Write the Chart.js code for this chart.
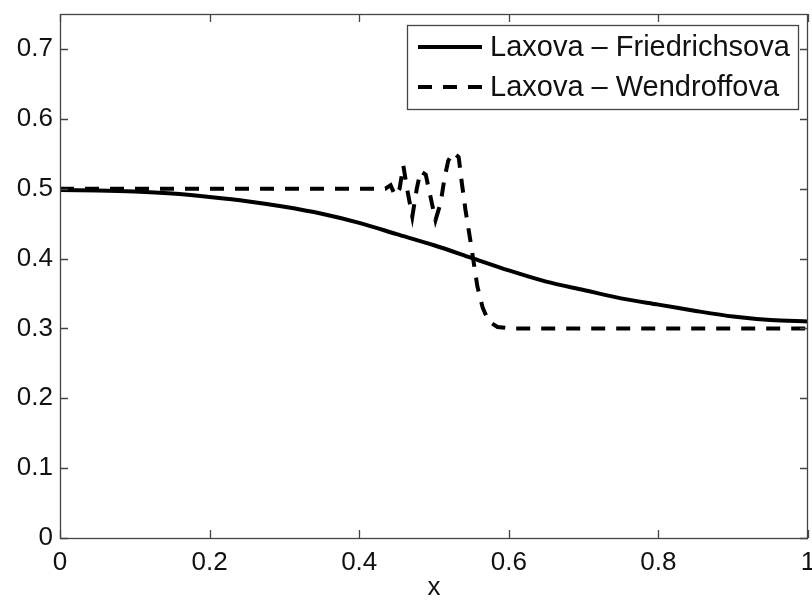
<!DOCTYPE html>
<html>
<head>
<meta charset="utf-8">
<script src="https://cdn.jsdelivr.net/npm/chart.js@4/dist/chart.umd.min.js"></script>
<style>
  html, body { margin: 0; padding: 0; background: #fff; }
  #wrap { width: 812px; height: 603px; position: relative; }
</style>
</head>
<body>
<div id="wrap"><canvas id="c" width="812" height="603"></canvas></div>
<script>
// ---- data ----
const lfX = [0, 0.05, 0.1, 0.15, 0.2, 0.25, 0.3, 0.35, 0.4, 0.45, 0.5, 0.55, 0.6, 0.65, 0.7, 0.75, 0.8, 0.85, 0.9, 0.95, 1.0];
const lfY = [0.498, 0.4975, 0.496, 0.493, 0.488, 0.482, 0.474, 0.464, 0.451, 0.435, 0.419, 0.401, 0.383, 0.367, 0.355, 0.343, 0.334, 0.325, 0.317, 0.312, 0.310];

const lwX = [0, 0.2, 0.42, 0.435, 0.442, 0.448, 0.454, 0.459, 0.464, 0.471, 0.477, 0.482, 0.489, 0.495, 0.502, 0.509, 0.514, 0.519, 0.526, 0.533, 0.537, 0.542, 0.548, 0.553, 0.558, 0.565, 0.573, 0.585, 0.603, 0.8, 1.0];
const lwY = [0.5, 0.5, 0.5, 0.5, 0.505, 0.49, 0.5, 0.533, 0.5, 0.46, 0.5, 0.525, 0.52, 0.49, 0.455, 0.48, 0.515, 0.54, 0.552, 0.545, 0.51, 0.47, 0.43, 0.395, 0.36, 0.33, 0.31, 0.302, 0.3, 0.3, 0.3];

const seriesNames = ['Laxova \u2013 Friedrichsova', 'Laxova \u2013 Wendroffova'];
const xTicks = [0, 0.2, 0.4, 0.6, 0.8, 1];
const xTickLabels = ['0', '0.2', '0.4', '0.6', '0.8', '1'];
const yTicks = [0, 0.1, 0.2, 0.3, 0.4, 0.5, 0.6, 0.7];
const yTickLabels = ['0', '0.1', '0.2', '0.3', '0.4', '0.5', '0.6', '0.7'];
const xTitle = 'x';

const FONT = '"Liberation Sans", Arial, Helvetica, sans-serif';
const AXIS_COLOR = '#444';

function zeroPad(s) { s.paddingTop = 0; s.paddingBottom = 0; s.paddingLeft = 0; s.paddingRight = 0; }

const framePlugin = {
  id: 'frame',
  afterDraw(chart) {
    const ctx = chart.ctx;
    const a = chart.chartArea;
    const xs = chart.scales.x, ys = chart.scales.y;
    ctx.save();
    ctx.strokeStyle = AXIS_COLOR;
    ctx.lineWidth = 1.3;
    ctx.strokeRect(a.left + 0.5, a.top + 0.5, a.right - a.left - 1, a.bottom - a.top);
    const L = 8;
    ctx.beginPath();
    xs.ticks.forEach(t => {
      const px = Math.round(xs.getPixelForValue(t.value)) + 0.5;
      ctx.moveTo(px, a.bottom); ctx.lineTo(px, a.bottom - L);
      ctx.moveTo(px, a.top); ctx.lineTo(px, a.top + L);
    });
    ys.ticks.forEach(t => {
      const py = Math.round(ys.getPixelForValue(t.value)) + 0.5;
      ctx.moveTo(a.left, py); ctx.lineTo(a.left + L, py);
      ctx.moveTo(a.right, py); ctx.lineTo(a.right - L, py);
    });
    ctx.stroke();

    // legend box
    const bx = 407, by = 25, bw = 391, bh = 84;
    ctx.fillStyle = '#fff';
    ctx.fillRect(bx, by, bw, bh);
    ctx.strokeStyle = AXIS_COLOR;
    ctx.lineWidth = 1.3;
    ctx.strokeRect(bx + 0.5, by + 0.5, bw, bh);
    ctx.font = '29px ' + FONT;
    ctx.textBaseline = 'middle';
    ctx.fillStyle = '#111';
    chart.data.datasets.forEach((ds, i) => {
      const cy = by + 22 + i * 40;
      ctx.save();
      ctx.strokeStyle = '#000';
      ctx.lineWidth = ds.borderWidth;
      ctx.setLineDash(ds.borderDash || []);
      ctx.beginPath();
      ctx.moveTo(bx + 11, cy); ctx.lineTo(bx + 75, cy);
      ctx.stroke();
      ctx.restore();
      ctx.fillText(ds.label, bx + 83, cy + 1);
    });
    ctx.restore();
  }
};

new Chart(document.getElementById('c'), {
  type: 'line',
  data: {
    datasets: [
      {
        label: seriesNames[0],
        data: lfX.map((x, i) => ({ x: x, y: lfY[i] })),
        borderColor: '#000', borderWidth: 4, pointRadius: 0, tension: 0.3, fill: false
      },
      {
        label: seriesNames[1],
        data: lwX.map((x, i) => ({ x: x, y: lwY[i] })),
        borderColor: '#000', borderWidth: 4, borderDash: [14, 11], pointRadius: 0, tension: 0, fill: false
      }
    ]
  },
  options: {
    responsive: false,
    animation: false,
    layout: { padding: { top: 14, right: 4, left: 0, bottom: 0 } },
    plugins: { legend: { display: false }, tooltip: { enabled: false } },
    scales: {
      x: {
        type: 'linear', min: 0, max: 1,
        afterBuildTicks: s => { s.ticks = xTicks.map(v => ({ value: v })); },
        afterFit: s => { s.height = 65; zeroPad(s); },
        ticks: {
          autoSkip: false, maxRotation: 0, padding: 9,
          font: { family: FONT, size: 26 }, color: '#111',
          callback: (v) => { const i = xTicks.indexOf(v); return i >= 0 ? xTickLabels[i] : ''; }
        },
        grid: { display: false, drawTicks: false },
        border: { display: false },
        title: { display: true, text: xTitle, font: { family: FONT, size: 26 }, color: '#111', padding: { top: 0, bottom: 0 } }
      },
      y: {
        type: 'linear', min: 0, max: 0.75,
        afterBuildTicks: s => { s.ticks = yTicks.map(v => ({ value: v })); },
        afterFit: s => { s.width = 60; zeroPad(s); },
        ticks: {
          autoSkip: false, padding: 7,
          font: { family: FONT, size: 26 }, color: '#111',
          callback: (v) => { const i = yTicks.indexOf(v); return i >= 0 ? yTickLabels[i] : ''; }
        },
        grid: { display: false, drawTicks: false },
        border: { display: false }
      }
    }
  },
  plugins: [framePlugin]
});
</script>
</body>
</html>
